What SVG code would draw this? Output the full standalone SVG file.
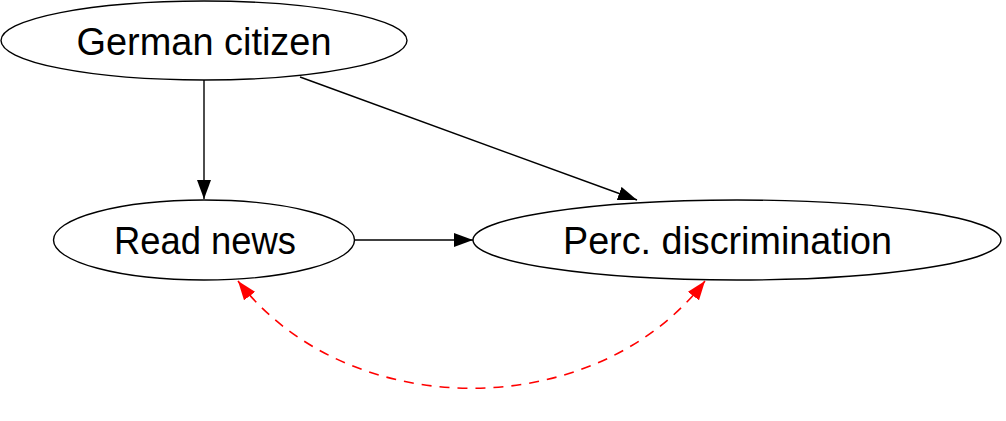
<svg xmlns="http://www.w3.org/2000/svg" width="1006" height="421" viewBox="0 0 1006 421">
  <style>
    .node ellipse { fill: #ffffff; stroke: #000000; stroke-width: 1.4; }
    .node text { font-family: "Liberation Sans", Arial, sans-serif; font-size: 38px; fill: #000000; text-anchor: middle; }
    .edge { fill: none; stroke: #000000; stroke-width: 1.4; }
    .bidir { fill: none; stroke: #ff0000; stroke-width: 1.6; stroke-dasharray: 10 8; }
  </style>
  <defs>
    <marker id="arrow" viewBox="0 0 19 14" refX="19" refY="7" markerWidth="19" markerHeight="14" markerUnits="userSpaceOnUse" orient="auto">
      <path d="M0,0 L19,7 L0,14 Z" fill="#000000"/>
    </marker>
    <marker id="arrow-red" viewBox="0 0 19 14" refX="19" refY="7" markerWidth="19" markerHeight="14" markerUnits="userSpaceOnUse" orient="auto-start-reverse">
      <path d="M0,0 L19,7 L0,14 Z" fill="#ff0000"/>
    </marker>
  </defs>

  <g id="connectors">
    <!-- German citizen -> Read news -->
    <path class="edge" d="M204,80 L204,199" marker-end="url(#arrow)"/>
    <!-- German citizen -> Perc. discrimination -->
    <path class="edge" d="M300,77 L637,200" marker-end="url(#arrow)"/>
    <!-- Read news -> Perc. discrimination -->
    <path class="edge" d="M354,240 L473,240" marker-end="url(#arrow)"/>
    <!-- Read news <-> Perc. discrimination (correlated errors) -->
    <path class="bidir" d="M238,281 C348,424 595,424 705,281" marker-start="url(#arrow-red)" marker-end="url(#arrow-red)"/>
  </g>

  <g id="german-citizen" class="node">
    <ellipse cx="204" cy="40.5" rx="203" ry="39.5"/>
    <text x="204" y="55" textLength="255" lengthAdjust="spacingAndGlyphs">German citizen</text>
  </g>

  <g id="read-news" class="node">
    <ellipse cx="204" cy="240" rx="150.5" ry="40"/>
    <text x="205" y="254" textLength="182" lengthAdjust="spacingAndGlyphs">Read news</text>
  </g>

  <g id="perc-discrimination" class="node">
    <ellipse cx="737" cy="240" rx="264" ry="40"/>
    <text x="727.5" y="254" textLength="329" lengthAdjust="spacingAndGlyphs">Perc. discrimination</text>
  </g>
</svg>
